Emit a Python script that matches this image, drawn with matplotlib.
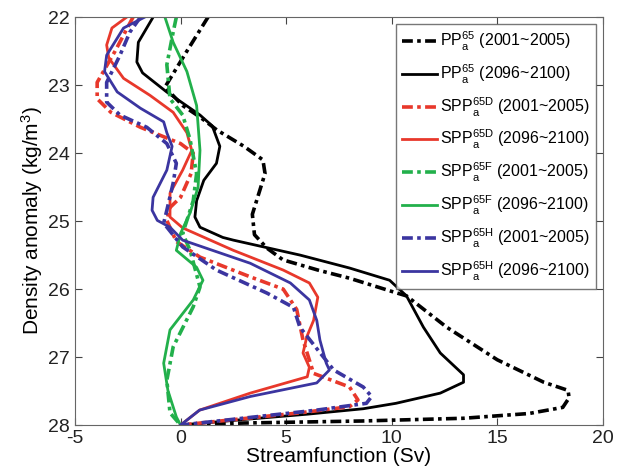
import matplotlib.pyplot as plt

plt.rcParams['font.family'] = ['Liberation Sans', 'DejaVu Sans']
plt.rcParams['mathtext.fontset'] = 'custom'
plt.rcParams['mathtext.rm'] = 'Liberation Sans'
plt.rcParams['mathtext.it'] = 'Liberation Sans'
plt.rcParams['axes.unicode_minus'] = False

# PP65 2001~2005 (dash-dot black)
pp1_x = [1.3, 0.3, -0.74, 0.1, 0.92, 1.72, 3.0, 3.9, 4.0, 3.7, 3.4, 3.5, 4.1, 4.85, 6.5, 8.0, 10.06, 10.7, 12.6,
         15.0, 17.2, 18.35, 18.4, 18.1, 16.5, 13.4, 8.6, 3.0, 0.0]
pp1_y = [22.0, 22.5, 23.03, 23.3, 23.47, 23.66, 23.9, 24.1, 24.3, 24.6, 24.9, 25.2, 25.4, 25.57, 25.72, 25.84, 26.04, 26.1, 26.56,
         27.04, 27.37, 27.49, 27.6, 27.74, 27.83, 27.9, 27.94, 27.97, 28.0]
# PP65 2096~2100 (solid black)
pp2_x = [-1.3, -2.0, -2.07, -1.8, -0.66, 0.92, 1.5, 1.86, 1.7, 1.1, 0.76, 0.68, 0.92, 2.0, 2.5, 5.66, 8.0, 9.9, 10.7,
         11.5, 12.3, 13.4, 13.4, 12.3, 10.2, 8.65, 6.0, 3.3, 0.0]
pp2_y = [22.0, 22.37, 22.66, 22.82, 23.1, 23.44, 23.6, 23.9, 24.15, 24.4, 24.7, 24.94, 25.09, 25.24, 25.28, 25.5, 25.69, 25.87, 26.1,
         26.56, 26.94, 27.26, 27.37, 27.53, 27.68, 27.76, 27.84, 27.91, 28.0]
# SPP65D 2001~2005 (dash-dot red)
d1_x = [-2.25, -3.1, -3.95, -3.95, -3.3, -1.9, 0.0, 0.6, 0.5, 0.0, -0.5, -0.65, -0.2, 0.92, 3.3, 4.86, 5.5, 5.8, 6.3,
        8.0, 8.4, 8.0, 5.65, 0.0]
d1_y = [22.0, 22.5, 22.96, 23.2, 23.4, 23.62, 23.86, 24.0, 24.3, 24.65, 24.8, 24.99, 25.3, 25.53, 25.82, 26.0, 26.3, 26.75, 27.24,
        27.44, 27.63, 27.73, 27.82, 28.0]
# SPP65D 2096~2100 (solid red)
d2_x = [-2.55, -3.25, -3.5, -3.4, -2.7, -1.45, -0.35, 0.3, 0.53, 0.1, -0.5, -0.5, 0.1, 2.5, 4.86, 6.1, 6.5, 6.3, 5.98,
        5.8, 6.1, 6.0, 3.3, 0.9, 0.0]
d2_y = [22.0, 22.16, 22.41, 22.6, 22.9, 23.15, 23.4, 23.7, 23.96, 24.25, 24.59, 24.94, 25.1, 25.43, 25.72, 25.91, 26.12, 26.46, 26.7,
        26.94, 27.15, 27.29, 27.53, 27.78, 28.0]
# SPP65F 2001~2005 (dash-dot green)
f1_x = [-0.2, -0.35, -0.65, -0.5, 0.1, 0.45, 0.76, 0.6, 0.3, 0.1, 0.45, 0.92, 0.6, -0.35, -0.65, -0.5, 0.0]
f1_y = [22.0, 22.22, 22.7, 23.2, 23.44, 23.8, 24.3, 24.7, 24.99, 25.18, 25.43, 25.97, 26.26, 26.85, 27.34, 27.82, 28.0]
# SPP65F 2096~2100 (solid green)
f2_x = [-0.74, -0.35, 0.3, 0.76, 0.92, 0.83, 0.45, 0.0, -0.2, 0.76, 1.06, 0.6, -0.5, -0.8, -0.6, -0.2, 0.0]
f2_y = [22.0, 22.37, 22.8, 23.3, 23.96, 24.5, 24.88, 25.18, 25.43, 25.68, 25.87, 26.16, 26.6, 27.09, 27.49, 27.88, 28.0]
# SPP65H 2001~2005 (dash-dot blue)
h1_x = [-1.9, -2.4, -2.87, -3.5, -3.5, -2.87, -1.6, -0.65, -0.2, -0.35, -0.65, -0.8, 0.1, 1.7, 4.1, 5.35, 5.65, 7.25,
        8.65, 9.05, 8.8, 6.45, 0.0]
h1_y = [22.0, 22.22, 22.56, 22.96, 23.25, 23.44, 23.62, 23.86, 24.15, 24.44, 24.84, 25.03, 25.38, 25.72, 26.06, 26.27, 26.56, 27.19,
        27.44, 27.58, 27.68, 27.78, 28.0]
# SPP65H 2096~2100 (solid blue)
h2_x = [-1.7, -2.7, -3.5, -3.6, -3.0, -1.9, -0.8, -0.65, -0.4, -0.65, -1.3, -1.35, -1.1, -0.5, 0.1, 3.3, 5.2, 6.1, 6.45,
        6.6, 6.9, 7.05, 6.45, 3.3, 0.9, 0.0]
h2_y = [22.0, 22.16, 22.56, 22.8, 23.1, 23.34, 23.54, 23.7, 23.9, 24.25, 24.65, 24.84, 24.99, 25.09, 25.28, 25.62, 25.91, 26.16, 26.46,
        26.75, 27.09, 27.19, 27.38, 27.58, 27.78, 28.0]

labels = [r'$\mathregular{PP_a^{65}}$ (2001~2005)', r'$\mathregular{PP_a^{65}}$ (2096~2100)',
          r'$\mathregular{SPP_a^{65D}}$ (2001~2005)', r'$\mathregular{SPP_a^{65D}}$ (2096~2100)',
          r'$\mathregular{SPP_a^{65F}}$ (2001~2005)', r'$\mathregular{SPP_a^{65F}}$ (2096~2100)',
          r'$\mathregular{SPP_a^{65H}}$ (2001~2005)', r'$\mathregular{SPP_a^{65H}}$ (2096~2100)']

dashdot = (0, (3, 1.2, 1, 1.2))
red = '#e8382b'
green = '#22b04b'
blue = '#3b35a0'

fig = plt.figure(figsize=(6.28, 4.76), dpi=100)
ax = fig.add_axes([0.1194, 0.107, 0.8406, 0.857])
ax.plot(pp1_x, pp1_y, color='black', lw=2.6, ls=dashdot, label=labels[0])
ax.plot(pp2_x, pp2_y, color='black', lw=2.0, label=labels[1])
ax.plot(d1_x, d1_y, color=red, lw=2.6, ls=dashdot, label=labels[2])
ax.plot(d2_x, d2_y, color=red, lw=2.0, label=labels[3])
ax.plot(f1_x, f1_y, color=green, lw=2.6, ls=dashdot, label=labels[4])
ax.plot(f2_x, f2_y, color=green, lw=2.0, label=labels[5])
ax.plot(h1_x, h1_y, color=blue, lw=2.6, ls=dashdot, label=labels[6])
ax.plot(h2_x, h2_y, color=blue, lw=2.0, label=labels[7])

ax.set_xlim(-5, 20)
ax.set_ylim(28, 22)
ax.set_xticks([-5, 0, 5, 10, 15, 20])
ax.set_yticks([22, 23, 24, 25, 26, 27, 28])
ax.tick_params(direction='in', top=True, right=True, labelsize=14, colors='#444444', labelcolor='#222222', length=5)
for s in ax.spines.values():
    s.set_color('#666666')
ax.set_xlabel('Streamfunction (Sv)', fontsize=15, labelpad=0)
ax.set_ylabel('Density anomaly (kg/m$^3$)', fontsize=15, labelpad=2)

leg = ax.legend(loc='upper right', fontsize=11.5, frameon=True, fancybox=False, handlelength=2.2,
                handletextpad=0.2, labelspacing=0.6, borderpad=0.4, borderaxespad=0.4)
leg.get_frame().set_edgecolor('#555555')
leg.get_frame().set_linewidth(1.0)

fig.savefig('out.png', dpi=100)
